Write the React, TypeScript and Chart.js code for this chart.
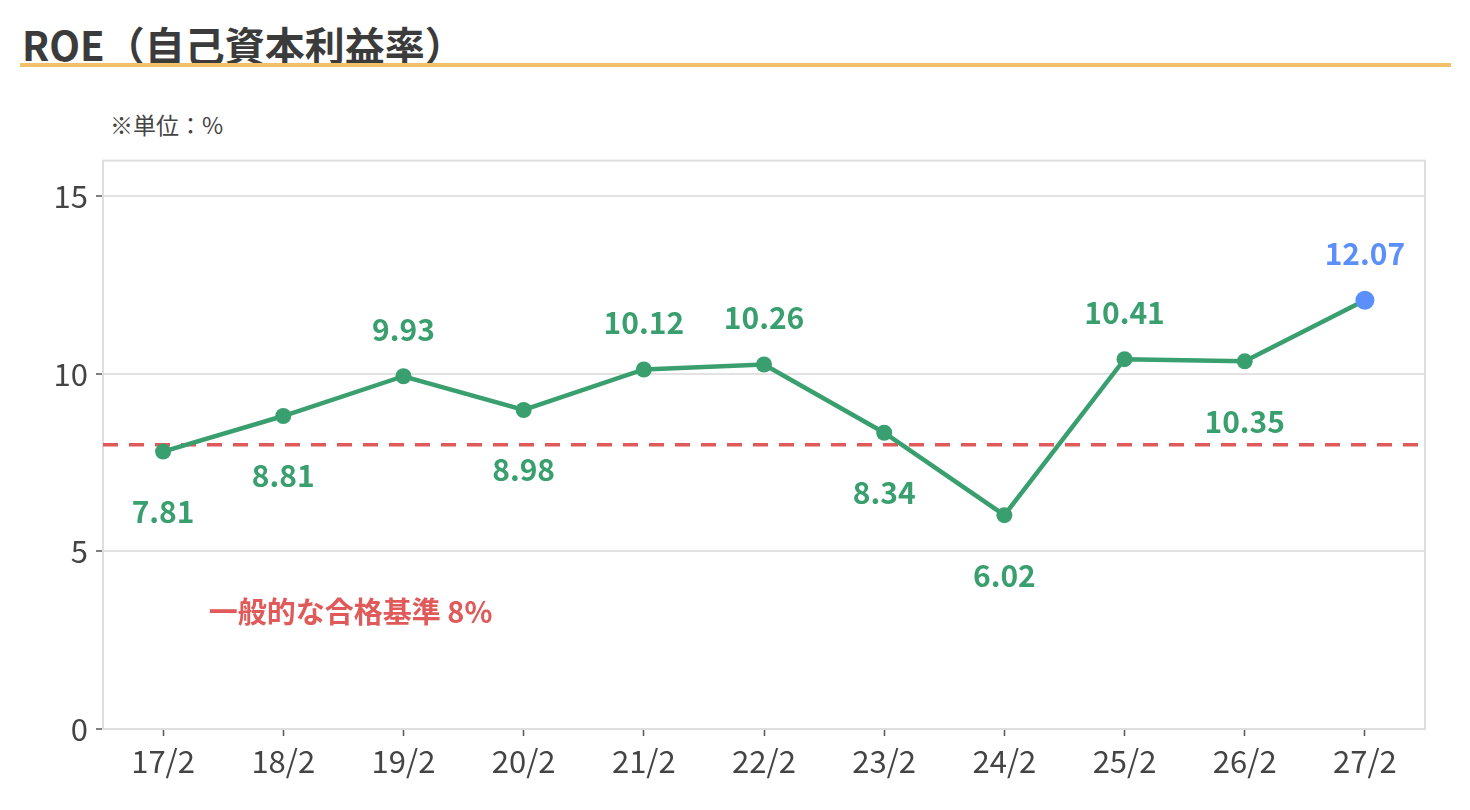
import React, { useEffect, useRef } from 'react';
import { Chart, registerables } from 'chart.js';
import type { Plugin } from 'chart.js';

Chart.register(...registerables);

const categories = ['17/2', '18/2', '19/2', '20/2', '21/2', '22/2', '23/2', '24/2', '25/2', '26/2', '27/2'];
const roeValues = [7.81, 8.81, 9.93, 8.98, 10.12, 10.26, 8.34, 6.02, 10.41, 10.35, 12.07];
// which value labels sit above the point (others go below)
const labelAbove = [false, false, true, false, true, true, false, false, true, false, true];
const yTickValues = [0, 5, 10, 15];
const benchmarkValue = 8;
const benchmarkLabel = '一般的な合格基準 8%';

const GREEN = '#3a9f6e';
const BLUE = '#5b8ff9';
const RED = '#e05a5a';
const FONT = '"Noto Sans CJK JP", "Noto Sans", sans-serif';

const lastIdx = roeValues.length - 1;

// plot frame on all four sides
const framePlugin: Plugin<'line'> = {
  id: 'frame',
  beforeDatasetsDraw(chart) {
    const { ctx, chartArea: a } = chart;
    ctx.save();
    ctx.strokeStyle = '#dedede';
    ctx.lineWidth = 2;
    ctx.strokeRect(a.left, a.top, a.right - a.left, a.bottom - a.top);
    ctx.restore();
  },
};

// dashed benchmark line + its caption
const benchmarkPlugin: Plugin<'line'> = {
  id: 'benchmark',
  beforeDatasetsDraw(chart) {
    const { ctx, chartArea: a, scales } = chart;
    const y = scales.y.getPixelForValue(benchmarkValue);
    ctx.save();
    ctx.strokeStyle = RED;
    ctx.lineWidth = 3.5;
    ctx.setLineDash([15, 11]);
    ctx.beginPath();
    ctx.moveTo(a.left, y);
    ctx.lineTo(a.right, y);
    ctx.stroke();
    ctx.setLineDash([]);
    const tx = scales.x.getPixelForValue(1) + (scales.x.getPixelForValue(2) - scales.x.getPixelForValue(1)) * 0.56;
    const ty = scales.y.getPixelForValue(3.3);
    ctx.fillStyle = RED;
    ctx.font = `bold 29px ${FONT}`;
    ctx.textAlign = 'center';
    ctx.textBaseline = 'middle';
    ctx.fillText(benchmarkLabel, tx, ty);
    ctx.restore();
  },
};

// value labels above / below each point
const valueLabelPlugin: Plugin<'line'> = {
  id: 'valueLabels',
  afterDatasetsDraw(chart) {
    const { ctx } = chart;
    const meta = chart.getDatasetMeta(0);
    ctx.save();
    ctx.font = `bold 30px ${FONT}`;
    ctx.textAlign = 'center';
    ctx.textBaseline = 'middle';
    meta.data.forEach((pt, i) => {
      ctx.fillStyle = i === lastIdx ? BLUE : GREEN;
      const dy = labelAbove[i] ? -47 : 60;
      ctx.fillText(roeValues[i].toFixed(2), pt.x, pt.y + dy);
    });
    ctx.restore();
  },
};

const RoeChart: React.FC = () => {
  const canvasRef = useRef<HTMLCanvasElement>(null);
  const chartRef = useRef<Chart | null>(null);

  useEffect(() => {
    if (!canvasRef.current) return;
    chartRef.current?.destroy();

    chartRef.current = new Chart(canvasRef.current, {
      type: 'line',
      data: {
        labels: categories,
        datasets: [
          {
            data: roeValues,
            borderColor: GREEN,
            borderWidth: 4.5,
            tension: 0,
            pointRadius: roeValues.map((_, i) => (i === lastIdx ? 9.5 : 8)),
            pointBackgroundColor: roeValues.map((_, i) => (i === lastIdx ? BLUE : GREEN)),
            pointBorderWidth: 0,
          },
        ],
      },
      options: {
        animation: false,
        responsive: true,
        maintainAspectRatio: false,
        layout: { padding: { top: 10, right: 45, left: 0, bottom: 31 } },
        plugins: {
          legend: { display: false },
          tooltip: { enabled: false },
        },
        scales: {
          x: {
            offset: true,
            grid: {
              offset: false,
              drawOnChartArea: false,
              tickColor: '#555',
              tickLength: 7,
              tickWidth: 1.5,
            },
            border: { color: '#dedede', width: 2 },
            ticks: {
              color: '#444',
              padding: 7,
              font: { size: 31, family: FONT },
              maxRotation: 0,
            },
            afterFit: (scale) => {
              scale.height = 50;
            },
          },
          y: {
            min: 0,
            max: 16,
            afterBuildTicks: (scale) => {
              scale.ticks = yTickValues.map((v) => ({ value: v }));
            },
            grid: {
              color: '#e2e2e2',
              lineWidth: 2,
              tickColor: '#555',
              tickLength: 7,
              tickWidth: 1.5,
            },
            border: { color: '#dedede', width: 2 },
            ticks: {
              color: '#444',
              padding: 8,
              font: { size: 31, family: FONT },
            },
            afterFit: (scale) => {
              scale.width = 103;
            },
          },
        },
      },
      plugins: [framePlugin, benchmarkPlugin, valueLabelPlugin],
    });

    return () => {
      chartRef.current?.destroy();
      chartRef.current = null;
    };
  }, []);

  return (
    <div style={{ position: 'absolute', left: 0, top: 134, width: 1470, height: 676 }}>
      <canvas ref={canvasRef} aria-label="ROE line chart" role="img"></canvas>
    </div>
  );
};

export default function App() {
  useEffect(() => {
    document.body.style.margin = '0';
  }, []);

  return (
    <div style={{ position: 'relative', width: 1470, height: 810, background: '#fff', fontFamily: FONT }}>
      <div
        style={{
          position: 'absolute',
          left: 22,
          top: 24,
          fontSize: 40,
          lineHeight: '40px',
          fontWeight: 700,
          color: '#3b3b3b',
          whiteSpace: 'nowrap',
        }}
      >
        ROE（自己資本利益率）
      </div>
      <div style={{ position: 'absolute', left: 20, top: 63, width: 1431, height: 4, background: '#f2c069' }} />
      <div
        style={{
          position: 'absolute',
          left: 110,
          top: 113,
          fontSize: 23,
          lineHeight: '23px',
          color: '#444',
          whiteSpace: 'nowrap',
        }}
      >
        ※単位：%
      </div>
      <RoeChart />
    </div>
  );
}
